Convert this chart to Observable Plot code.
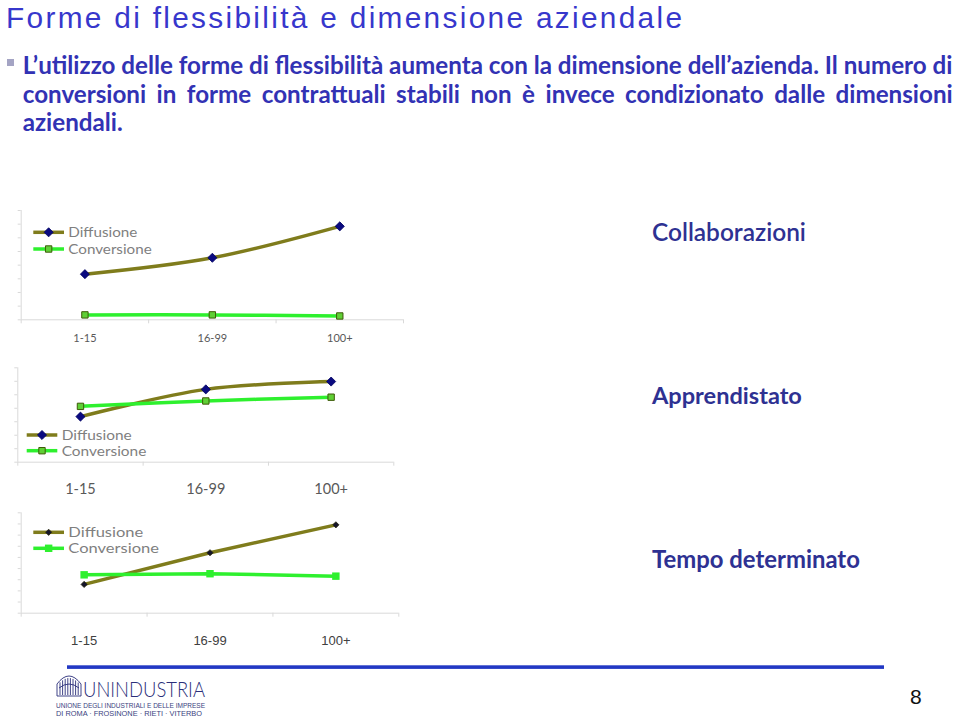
<!DOCTYPE html>
<html><head><meta charset="utf-8">
<script src="https://cdn.jsdelivr.net/npm/d3@7"></script>
<script src="https://cdn.jsdelivr.net/npm/@observablehq/plot@0.6"></script>
<style>
html,body{margin:0;padding:0;background:#fff}
#page{position:relative;width:959px;height:721px;overflow:hidden;background:#fff}
.chart{position:absolute}
#overlay{position:absolute;left:0;top:0}
</style></head>
<body><div id="page"></div>
<script>
// ---- data ----
const categories = ["1-15", "16-99", "100+"];
const seriesNames = ["Diffusione", "Conversione"];
const chartNames = ["Collaborazioni", "Apprendistato", "Tempo determinato"];
const collaborazioniDiffusione = [16.7, 22.7, 34.2];
const collaborazioniConversione = [1.8, 1.8, 1.4];
const apprendistatoDiffusione = [16.9, 27.0, 29.9];
const apprendistatoConversione = [20.7, 22.7, 24.1];
const tempoDiffusione = [12.9, 27.1, 39.6];
const tempoConversione = [17.2, 17.7, 16.6];
const titleText = "Forme di flessibilità e dimensione aziendale";
const bulletLines = [
  "L’utilizzo delle forme di flessibilità aumenta con la dimensione dell’azienda. Il numero di",
  "conversioni in forme contrattuali stabili non è invece condizionato dalle dimensioni",
  "aziendali."
];
const logoName = "UNINDUSTRIA";
const logoLines = ["UNIONE DEGLI INDUSTRIALI E DELLE IMPRESE", "DI ROMA  ·  FROSINONE  ·  RIETI  ·  VITERBO"];
const pageNumber = "8";

// ---- styles ----
const page = document.getElementById("page");
const DIFF = "#7f7c1c", CONV = "#2ef02e", AX = "#d9d9d9";
const diamond = d3.symbolDiamond2 || d3.symbolDiamond;

function makeChart(cfg) {
  const diff = cfg.diff.map((v, i) => ({i, v}));
  const conv = cfg.conv.map((v, i) => ({i, v}));
  const svg = Plot.plot({
    width: cfg.width, height: cfg.height,
    marginLeft: cfg.mL, marginRight: cfg.mR, marginTop: cfg.mT, marginBottom: cfg.mB,
    x: {domain: [-0.5, categories.length - 0.5], label: null},
    y: {domain: [0, cfg.yMax], label: null},
    style: {background: "transparent", overflow: "visible", fontFamily: cfg.font},
    marks: [
      Plot.axisY({ticks: d3.range(0, cfg.yMax + 0.001, cfg.yStep), tickFormat: () => "", tickSize: 3, stroke: AX, label: null}),
      Plot.ruleX([-0.5], {stroke: AX, strokeWidth: 1}),
      Plot.ruleY([0], {stroke: AX, strokeWidth: 1}),
      Plot.axisX({ticks: d3.range(-0.5, categories.length, 1), tickFormat: () => "", tickSize: 4, stroke: AX, label: null}),
      Plot.axisX({ticks: categories.map((c, i) => i), tickFormat: i => categories[i], tickSize: 0, tickPadding: cfg.pad,
        fontSize: cfg.fs, fontFamily: cfg.font, fill: cfg.labelColor, label: null}),
      Plot.line(diff, {x: "i", y: "v", stroke: DIFF, strokeWidth: 3.5, curve: cfg.curve}),
      Plot.line(conv, {x: "i", y: "v", stroke: CONV, strokeWidth: 3.5, curve: cfg.curve}),
      Plot.dot(diff, {x: "i", y: "v", symbol: diamond, r: cfg.diffR, fill: cfg.diffFill, stroke: cfg.diffStroke, strokeWidth: 0.8}),
      Plot.dot(conv, {x: "i", y: "v", symbol: d3.symbolSquare, r: cfg.convR, fill: cfg.convFill, stroke: cfg.convStroke, strokeWidth: cfg.convSW})
    ]
  });
  const div = document.createElement("div");
  div.className = "chart";
  div.style.left = cfg.left + "px";
  div.style.top = cfg.top + "px";
  div.appendChild(svg);
  page.appendChild(div);
}

makeChart({left: 0, top: 200, width: 420, height: 150, mL: 20.7, mR: 17, mT: 10, mB: 30.7,
  diff: collaborazioniDiffusione, conv: collaborazioniConversione, yMax: 40, yStep: 5,
  fs: 11, font: "Lato, sans-serif", labelColor: "#595959", pad: 14.5, curve: "catmull-rom",
  diffR: 4.1, diffFill: "#0a0a80", diffStroke: "#000060", convR: 3.6, convFill: "#5fcf35", convStroke: "#3d5a08", convSW: 1});

makeChart({left: 0, top: 360, width: 410, height: 140, mL: 17.3, mR: 16.7, mT: 7.3, mB: 38.3,
  diff: apprendistatoDiffusione, conv: apprendistatoConversione, yMax: 35, yStep: 5,
  fs: 14.5, font: "Lato, sans-serif", labelColor: "#595959", pad: 21.5, curve: "catmull-rom",
  diffR: 4.1, diffFill: "#0a0a80", diffStroke: "#000060", convR: 3.6, convFill: "#5fcf35", convStroke: "#3d5a08", convSW: 1});

makeChart({left: 0, top: 505, width: 420, height: 150, mL: 20.7, mR: 21.7, mT: 7.3, mB: 42.3,
  diff: tempoDiffusione, conv: tempoConversione, yMax: 45, yStep: 5,
  fs: 13, font: "'Liberation Sans', Arial, sans-serif", labelColor: "#404040", pad: 22.8, curve: "linear",
  diffR: 2.8, diffFill: "#15152a", diffStroke: "#2a2a10", convR: 4.2, convFill: CONV, convStroke: "none", convSW: 0});

// ---- overlay texts ----
const svg = d3.select(page).append("svg").attr("id", "overlay").attr("width", 959).attr("height", 721);

function fit(sel, target) {
  const fs = +sel.attr("font-size");
  const w = sel.node().getComputedTextLength();
  sel.attr("font-size", fs * target / w);
  return sel;
}

// title
const title = svg.append("text").attr("x", 6).attr("y", 27.5).attr("font-family", "'Liberation Sans', Arial, sans-serif")
  .attr("font-size", 29.8).attr("fill", "#3737cc").text(titleText);
{
  const w = title.node().getComputedTextLength();
  title.style("letter-spacing", ((676 - w) / (titleText.length - 1)) + "px");
}

// bullet
svg.append("rect").attr("x", 7).attr("y", 59).attr("width", 7).attr("height", 7).attr("fill", "#a4a4c4");
const bulletBase = [74, 102.5, 131];
const l1 = svg.append("text").attr("x", 22.7).attr("y", bulletBase[0]).attr("font-family", "Lato, sans-serif")
  .attr("font-weight", 700).attr("font-size", 20).attr("fill", "#3232b4").text(bulletLines[0]);
fit(l1, 930);
const bfs = +l1.attr("font-size");
bulletLines.slice(1).forEach((t, k) => {
  const tx = svg.append("text").attr("x", 22.7).attr("y", bulletBase[k + 1]).attr("font-family", "Lato, sans-serif")
    .attr("font-weight", 700).attr("font-size", bfs).attr("fill", "#3232b4").text(t);
  if (k === 0) {
    const w = tx.node().getComputedTextLength();
    const spaces = t.split(" ").length - 1;
    tx.style("word-spacing", ((930 - w) / spaces) + "px");
  }
});

// chart names
const nameBase = [241, 404, 568.3];
const nameWidth = [154, 150, 208];
chartNames.forEach((n, k) => {
  fit(svg.append("text").attr("x", 652).attr("y", nameBase[k]).attr("font-family", "Lato, sans-serif")
    .attr("font-weight", k === 0 ? 600 : 700).attr("font-size", 22).attr("fill", "#2e3192").text(n), nameWidth[k]);
});

// legends
function legend(o) {
  const g = svg.append("g");
  const ys = [o.yD, o.yC];
  const mid = (o.x0 + o.x1) / 2;
  g.append("line").attr("x1", o.x0).attr("x2", o.x1).attr("y1", ys[0]).attr("y2", ys[0]).attr("stroke", DIFF).attr("stroke-width", 3.5);
  g.append("path").attr("transform", `translate(${mid},${ys[0]})`)
    .attr("d", d3.symbol(diamond, Math.PI * o.diffR * o.diffR)()).attr("fill", o.diffFill).attr("stroke", o.diffStroke).attr("stroke-width", 0.8);
  g.append("line").attr("x1", o.x0).attr("x2", o.x1).attr("y1", ys[1]).attr("y2", ys[1]).attr("stroke", CONV).attr("stroke-width", 3.5);
  g.append("path").attr("transform", `translate(${mid},${ys[1]})`)
    .attr("d", d3.symbol(d3.symbolSquare, Math.PI * o.convR * o.convR)()).attr("fill", o.convFill).attr("stroke", o.convStroke).attr("stroke-width", o.convSW);
  const texts = seriesNames.map((s, k) => g.append("text").attr("x", o.tx).attr("y", ys[k] + o.dy).attr("font-family", "Lato, sans-serif")
    .attr("font-size", o.fs).attr("fill", "#7f7f7f").text(s));
  const scale = o.tw / texts[0].node().getComputedTextLength();
  texts.forEach(t => {
    const w = t.node().getComputedTextLength();
    t.attr("textLength", w * scale).attr("lengthAdjust", "spacingAndGlyphs");
  });
}
legend({x0: 33.3, x1: 64, yD: 232.3, yC: 249, tx: 68.3, tw: 69, dy: 5, fs: 13.5,
  diffR: 4.1, diffFill: "#0a0a80", diffStroke: "#000060", convR: 3.6, convFill: "#5fcf35", convStroke: "#3d5a08", convSW: 1});
legend({x0: 26.7, x1: 57.3, yD: 435, yC: 450.7, tx: 61.7, tw: 70, dy: 5, fs: 12.8,
  diffR: 4.1, diffFill: "#0a0a80", diffStroke: "#000060", convR: 3.6, convFill: "#5fcf35", convStroke: "#3d5a08", convSW: 1});
legend({x0: 33.3, x1: 64, yD: 532.3, yC: 548.3, tx: 68.3, tw: 75, dy: 5, fs: 13,
  diffR: 2.8, diffFill: "#15152a", diffStroke: "#2a2a10", convR: 4.2, convFill: CONV, convStroke: "none", convSW: 0});

// footer
svg.append("rect").attr("x", 67).attr("y", 665.3).attr("width", 817).attr("height", 3.6).attr("fill", "#2238c4");
svg.append("text").attr("x", 910).attr("y", 704).attr("font-family", "'Liberation Sans', Arial, sans-serif")
  .attr("font-size", 21).attr("fill", "#111").text(pageNumber);

// logo emblem
const em = svg.append("g").attr("fill", "none").attr("stroke", "#2b2f7a").attr("stroke-width", 0.9);
em.append("path").attr("d", "M57,696 L57,684 Q69,668 81,684 L81,696 Z");
d3.range(60, 80, 2.6).forEach(x => {
  const top = 684 - 7 * Math.sin(Math.PI * (x - 57) / 24);
  em.append("line").attr("x1", x).attr("x2", x).attr("y1", top + 1).attr("y2", 695);
});
em.append("path").attr("d", "M59,688 Q69,680 79,688");
svg.append("text").attr("x", 83).attr("y", 696.7).attr("font-family", "Lato, sans-serif").attr("font-weight", 300)
  .attr("font-size", 21).attr("fill", "#2b2f7a").attr("textLength", 122).attr("lengthAdjust", "spacingAndGlyphs").text(logoName);
svg.append("text").attr("x", 56).attr("y", 708).attr("font-family", "'Liberation Sans', Arial, sans-serif")
  .attr("font-size", 6.5).attr("fill", "#3a3f80").attr("textLength", 149).attr("lengthAdjust", "spacingAndGlyphs").text(logoLines[0]);
svg.append("text").attr("x", 56).attr("y", 715.5).attr("font-family", "'Liberation Sans', Arial, sans-serif")
  .attr("font-size", 6.5).attr("fill", "#3a3f80").attr("textLength", 146).attr("lengthAdjust", "spacingAndGlyphs").text(logoLines[1]);
</script>
</body></html>
